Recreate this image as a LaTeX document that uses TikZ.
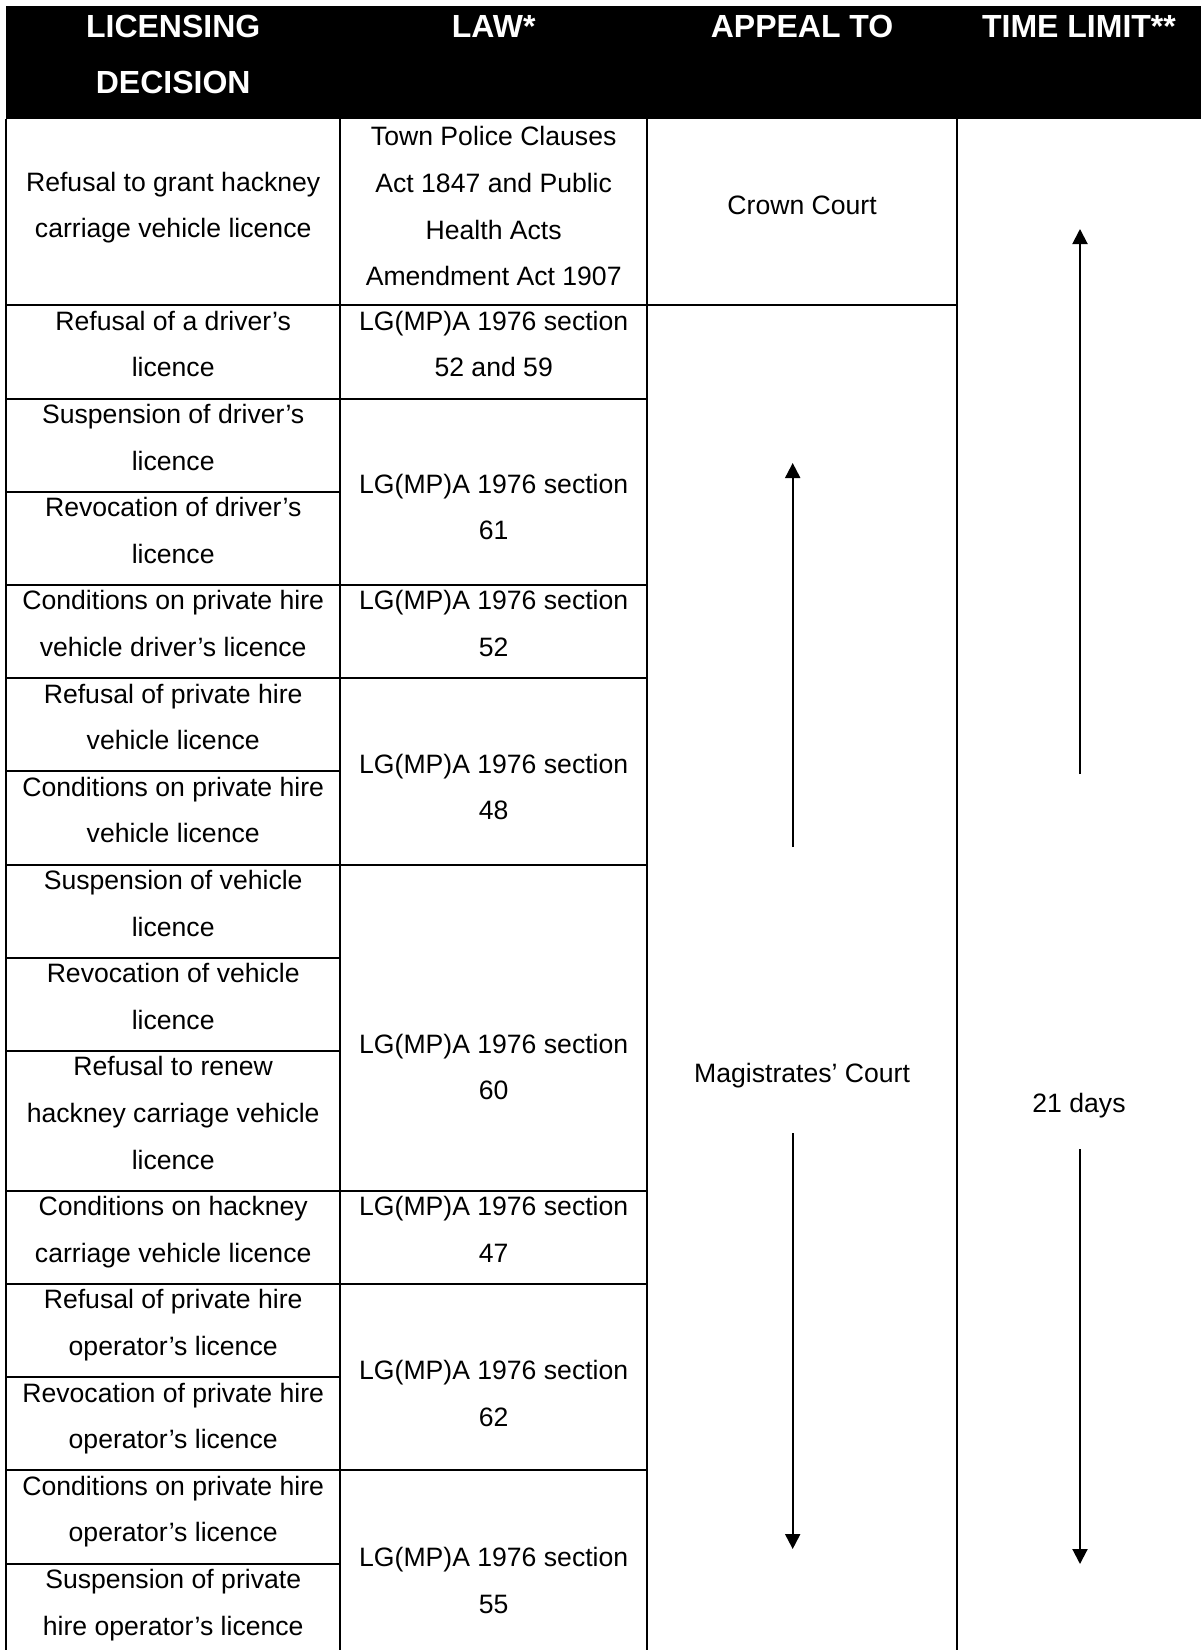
\documentclass[tikz,border=0pt]{standalone}
\usepackage{fontspec}
\setmainfont{Liberation Sans}
\usepackage{tikz}
\usetikzlibrary{arrows.meta}
\tikzset{
  Zelle/.style={align=center, anchor=base, inner sep=0pt, yshift=-2pt, font=\fontsize{26.6}{46.6}\selectfont}, % Tabellentext (base = letzte Zeile)
  Kopf/.style={align=center, anchor=base, inner sep=0pt, text=white, font=\bfseries\fontsize{32}{55.8}\selectfont}, % Kopfzeile
  Gitter/.style={line width=2pt}, % Tabellenlinien
  FPfeil/.style={line width=2pt,->} % Pfeile
}

\begin{document}
\begin{tikzpicture}[x=1pt, y=-1pt,
>={Triangle[width=15pt,length=15pt]} % Voreinstellung fuer Pfeilspitzen
]
\useasboundingbox (0,0) rectangle (1201,1650);

%Kopfzeile
\fill (6.3,6.3) rectangle (1201,118.9);
\node[Kopf] (kDecision) at (173.2,93.6) {LICENSING\\DECISION};
\node[Kopf] (kLaw) at (493.7,37.8) {LAW*};
\node[Kopf] (kAppeal) at (802.1,37.8) {APPEAL TO};
\node[Kopf] (kLimit) at (1079,37.8) {TIME LIMIT**};

%Gitter
\draw[Gitter] (6.3,118.9) -- (6.3,1650);
\draw[Gitter] (340,118.9) -- (340,1650);
\draw[Gitter] (647.4,118.9) -- (647.4,1650);
\draw[Gitter] (956.8,118.9) -- (956.8,1650);
\draw[Gitter] (6.3,305.3) -- (956.8,305.3);
\foreach \y in {398.5,584.9,678.1,864.5,1190.7,1283.9,1470.3}
  \draw[Gitter] (6.3,\y) -- (647.4,\y);
\foreach \y in {491.7,771.3,957.7,1050.9,1377.1,1563.5}
  \draw[Gitter] (6.3,\y) -- (340,\y);

%Entscheidungen
\node[Zelle] (dGrant) at (173.2,235.6) {Refusal to grant hackney\\carriage vehicle licence};
\node[Zelle] (dDrvRef) at (173.2,374.9) {Refusal of a driver’s\\licence};
\node[Zelle] (dDrvSus) at (173.2,468.1) {Suspension of driver’s\\licence};
\node[Zelle] (dDrvRev) at (173.2,561.3) {Revocation of driver’s\\licence};
\node[Zelle] (dDrvCon) at (173.2,654.5) {Conditions on private hire\\vehicle driver’s licence};
\node[Zelle] (dPhvRef) at (173.2,747.7) {Refusal of private hire\\vehicle licence};
\node[Zelle] (dPhvCon) at (173.2,840.9) {Conditions on private hire\\vehicle licence};
\node[Zelle] (dVehSus) at (173.2,934.1) {Suspension of vehicle\\licence};
\node[Zelle] (dVehRev) at (173.2,1027.3) {Revocation of vehicle\\licence};
\node[Zelle] (dRenew) at (173.2,1167.1) {Refusal to renew\\hackney carriage vehicle\\licence};
\node[Zelle] (dHcCon) at (173.2,1260.3) {Conditions on hackney\\carriage vehicle licence};
\node[Zelle] (dOpRef) at (173.2,1353.5) {Refusal of private hire\\operator’s licence};
\node[Zelle] (dOpRev) at (173.2,1446.7) {Revocation of private hire\\operator’s licence};
\node[Zelle] (dOpCon) at (173.2,1539.9) {Conditions on private hire\\operator’s licence};
\node[Zelle] (dOpSus) at (173.2,1633.1) {Suspension of private\\hire operator’s licence};

%Gesetze
\node[Zelle] (gTown) at (493.7,283.6) {Town Police Clauses\\Act 1847 and Public\\Health Acts\\Amendment Act 1907};
\node[Zelle] (gS52a) at (493.7,374.9) {LG(MP)A 1976 section\\52 and 59};
\node[Zelle] (gS61) at (493.7,537.8) {LG(MP)A 1976 section\\61};
\node[Zelle] (gS52b) at (493.7,654.5) {LG(MP)A 1976 section\\52};
\node[Zelle] (gS48) at (493.7,817.8) {LG(MP)A 1976 section\\48};
\node[Zelle] (gS60) at (493.7,1097.8) {LG(MP)A 1976 section\\60};
\node[Zelle] (gS47) at (493.7,1260.3) {LG(MP)A 1976 section\\47};
\node[Zelle] (gS62) at (493.7,1424.1) {LG(MP)A 1976 section\\62};
\node[Zelle] (gS55) at (493.7,1611.5) {LG(MP)A 1976 section\\55};

%Berufung und Frist
\node[Zelle] (aCrown) at (802.1,212.3) {Crown Court};
\node[Zelle] (aMag) at (802.1,1080.7) {Magistrates’ Court};
\node[Zelle] (fDays) at (1079,1110.1) {21 days};

%Pfeile
\coordinate (aUpS) at (792.7,847);
\coordinate (aUpE) at (792.7,463);
\coordinate (aDnS) at (792.7,1133);
\coordinate (aDnE) at (792.7,1549);
\coordinate (fUpS) at (1080,774);
\coordinate (fUpE) at (1080,229);
\coordinate (fDnS) at (1080,1149);
\coordinate (fDnE) at (1080,1564);
\draw[FPfeil] (aUpS) -- (aUpE);
\draw[FPfeil] (aDnS) -- (aDnE);
\draw[FPfeil] (fUpS) -- (fUpE);
\draw[FPfeil] (fDnS) -- (fDnE);

\end{tikzpicture}
\end{document}
